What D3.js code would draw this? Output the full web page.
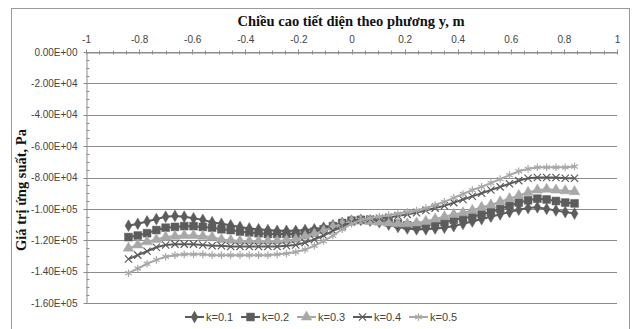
<!DOCTYPE html>
<html>
<head>
<meta charset="utf-8">
<script src="https://d3js.org/d3.v7.min.js"></script>
<style>
  body { margin: 0; background: #fff; }
  text { font-family: "Liberation Sans", Arial, sans-serif; }
  .ttl { font-family: "Liberation Serif", "Times New Roman", serif; font-weight: bold; font-size: 14.5px; fill: #111; }
</style>
</head>
<body>
<svg id="chart" width="635" height="329"></svg>
<script>
// position along section height (m)
var yPos = [-0.84,-0.805,-0.77,-0.735,-0.7,-0.665,-0.63,-0.595,-0.56,-0.525,-0.49,-0.455,-0.42,-0.385,-0.35,-0.315,-0.28,-0.245,-0.21,-0.175,-0.14,-0.105,-0.07,-0.035,0,
            0.035,0.07,0.105,0.14,0.175,0.21,0.245,0.28,0.315,0.35,0.385,0.42,0.455,0.49,0.525,0.56,0.595,0.63,0.665,0.7,0.735,0.77,0.805,0.84];

// stress values, kPa
var k01 = [-110.7,-109.5,-108,-106.5,-105,-104.5,-105,-106,-107,-108.5,-109.5,-110.5,-111.5,-112.5,-113,-113.5,-114,-114,-114,-113.5,-113,-112,-110.5,-109,-107.5,
           -107,-107.5,-108.5,-110,-111.5,-112.5,-113,-113,-112.5,-112,-111,-109.5,-108,-106.5,-105,-103.5,-102,-100.5,-99.5,-99,-100,-101,-102,-103];
var k02 = [-118,-117,-115.5,-113.5,-112,-111.5,-111,-111,-111.5,-112,-113,-113.5,-114.5,-115,-115.5,-116,-116,-116,-116,-115.5,-114.5,-113,-111,-109,-107.5,
           -107,-107,-107.5,-108.5,-109.5,-110.5,-111,-110.5,-109.5,-108.5,-107,-106,-105,-103.5,-102,-100,-98,-96,-94.5,-93.5,-94,-95,-96,-96.5];
var k03 = [-125,-123,-121,-119.5,-118,-117.5,-117,-117,-117.5,-118,-119.5,-120,-120.5,-120.5,-120.5,-120.5,-120.5,-120,-119.5,-117.5,-116,-114,-111.5,-109.5,-108,
           -107.5,-108,-108.5,-109,-109.5,-109.5,-109,-108,-106.5,-105,-103.5,-102.5,-101,-99,-97.5,-95.5,-93.5,-91.5,-89.5,-88,-87.5,-88,-88.5,-89];
var k04 = [-132,-129.5,-127,-124.5,-123,-122.5,-122.5,-122.5,-123,-123.5,-123.5,-124,-124,-124,-124,-124,-124,-123.5,-123,-121.5,-119.5,-117,-114,-111,-108.5,
           -107,-106.5,-106,-105.5,-104.5,-103.5,-102.5,-101,-99.5,-98,-96,-94,-92,-90,-88,-86,-84,-82,-80.5,-80,-80,-80,-80.5,-80.5];
var k05 = [-141,-138,-135,-132.5,-130.5,-129.5,-129,-129,-129,-129.5,-129.5,-129.5,-129.5,-129.5,-129.5,-129.5,-129,-128.5,-127.5,-126,-123.5,-120.5,-117,-113,-109.5,
           -107,-106,-105,-104,-103,-102,-101,-99.5,-97.5,-95.5,-93,-90.5,-88,-86,-83.5,-81,-78.5,-76,-74.5,-73.5,-73.5,-73.5,-73.5,-73];

var seriesNames = ["k=0.1", "k=0.2", "k=0.3", "k=0.4", "k=0.5"];
var xTicks = [-1, -0.8, -0.6, -0.4, -0.2, 0, 0.2, 0.4, 0.6, 0.8, 1];
var yTicks = [0, -20000, -40000, -60000, -80000, -100000, -120000, -140000, -160000];
var yTickLabels = ["0.00E+00", "-2.00E+04", "-4.00E+04", "-6.00E+04", "-8.00E+04", "-1.00E+05", "-1.20E+05", "-1.40E+05", "-1.60E+05"];

var dark = "#5c5c5c", light = "#a8a8a8";
var styles = [
  {color: dark,  sym: d3.symbolDiamond, size: 40, fill: true},
  {color: dark,  sym: d3.symbolSquare,  size: 62, fill: true},
  {color: light, sym: d3.symbolTriangle, size: 48, fill: true},
  {color: dark,  sym: d3.symbolX,       size: 36, fill: false},
  {color: light, sym: d3.symbolAsterisk, size: 40, fill: false}
];

var series = [k01, k02, k03, k04, k05].map(function(vals, i) {
  return { name: seriesNames[i], values: vals.map(function(v, j) { return {x: yPos[j], y: v * 1000}; }) };
});

var svg = d3.select("#chart");

// outer frame
svg.append("rect").attr("x", 11.5).attr("y", 8.5).attr("width", 618).attr("height", 330)
  .attr("fill", "#fff").attr("stroke", "#9a9a9a").attr("stroke-width", 1);

var x = d3.scaleLinear().domain([-1, 1]).range([86, 617]);
var y = d3.scaleLinear().domain([-160000, 0]).range([303, 52]);

// grid
svg.append("g").selectAll("line").data(yTicks).enter().append("line")
  .attr("x1", x(-1)).attr("x2", x(1))
  .attr("y1", function(d) { return Math.round(y(d)) + 0.5; })
  .attr("y2", function(d) { return Math.round(y(d)) + 0.5; })
  .attr("stroke", "#8c8c8c").attr("stroke-width", 1);

// y axis
var yAxis = svg.append("g").attr("transform", "translate(" + (x(-1) + 0.5) + ",0)");
yAxis.call(d3.axisLeft(y).tickValues(yTicks).tickSize(0)
  .tickFormat(function(d, i) { return yTickLabels[i]; }).tickPadding(9));
yAxis.select(".domain").attr("stroke", "#8c8c8c");
yAxis.selectAll("text").attr("font-size", 10).attr("fill", "#444")
  .attr("font-family", "'Liberation Sans', Arial, sans-serif");
// minor + major tick marks on y
var yMinor = d3.range(0, 33).map(function(i) { return -5000 * i; });
yAxis.selectAll(".mtick").data(yMinor).enter().append("line")
  .attr("x1", function(d, i) { return i % 4 === 0 ? -3 : 0; })
  .attr("x2", 3)
  .attr("y1", function(d) { return Math.round(y(d)) + 0.5; })
  .attr("y2", function(d) { return Math.round(y(d)) + 0.5; })
  .attr("stroke", "#8c8c8c");

// x axis at top (at y = 0)
var xAxis = svg.append("g").attr("transform", "translate(0," + (Math.round(y(0)) + 0.5) + ")");
xAxis.call(d3.axisTop(x).tickValues(xTicks).tickSize(0).tickPadding(10)
  .tickFormat(function(d) { return d3.format("")(d).replace("\u2212", "-"); }));
xAxis.select(".domain").attr("stroke", "#8c8c8c");
xAxis.selectAll("text").attr("font-size", 10).attr("fill", "#444")
  .attr("font-family", "'Liberation Sans', Arial, sans-serif");
var xMinor = d3.range(0, 41).map(function(i) { return -1 + 0.05 * i; });
xAxis.selectAll(".mtick").data(xMinor).enter().append("line")
  .attr("x1", function(d) { return Math.round(x(d)) + 0.5; })
  .attr("x2", function(d) { return Math.round(x(d)) + 0.5; })
  .attr("y1", function(d, i) { return i % 4 === 0 ? -3 : -2; })
  .attr("y2", 2)
  .attr("stroke", "#8c8c8c");

// titles
svg.append("text").attr("class", "ttl").attr("x", 351).attr("y", 26)
  .attr("text-anchor", "middle").text("Chiều cao tiết diện theo phương y, m");
svg.append("text").attr("class", "ttl").attr("transform", "translate(26,190) rotate(-90)")
  .attr("text-anchor", "middle").text("Giá trị ứng suất, Pa");

// lines + markers
var line = d3.line().x(function(d) { return x(d.x); }).y(function(d) { return y(d.y); });
var sg = svg.append("g").selectAll("g").data(series).enter().append("g");
sg.append("path").attr("d", function(d) { return line(d.values); })
  .attr("fill", "none").attr("stroke", function(d, i) { return styles[i].color; })
  .attr("stroke-width", 2);
sg.each(function(s, i) {
  var st = styles[i];
  d3.select(this).selectAll("path.pt").data(s.values).enter().append("path")
    .attr("class", "pt")
    .attr("transform", function(d) { return "translate(" + x(d.x) + "," + y(d.y) + ")"; })
    .attr("d", d3.symbol().type(st.sym).size(st.size))
    .attr("fill", st.fill ? st.color : "none")
    .attr("stroke", st.color).attr("stroke-width", st.fill ? 0.5 : 1.2);
});

// legend
var lg = svg.append("g").attr("transform", "translate(185,317)");
var li = lg.selectAll("g").data(seriesNames).enter().append("g")
  .attr("transform", function(d, i) { return "translate(" + (i * 56) + ",0)"; });
li.append("line").attr("x1", 0).attr("x2", 19).attr("y1", 0).attr("y2", 0)
  .attr("stroke", function(d, i) { return styles[i].color; }).attr("stroke-width", 2);
li.append("path").attr("transform", "translate(9.5,0)")
  .attr("d", function(d, i) { return d3.symbol().type(styles[i].sym).size(styles[i].size)(); })
  .attr("fill", function(d, i) { return styles[i].fill ? styles[i].color : "none"; })
  .attr("stroke", function(d, i) { return styles[i].color; })
  .attr("stroke-width", function(d, i) { return styles[i].fill ? 0.5 : 1.2; });
li.append("text").attr("x", 21).attr("y", 4).attr("font-size", 11).attr("fill", "#444").text(function(d) { return d; });
</script>
</body>
</html>
